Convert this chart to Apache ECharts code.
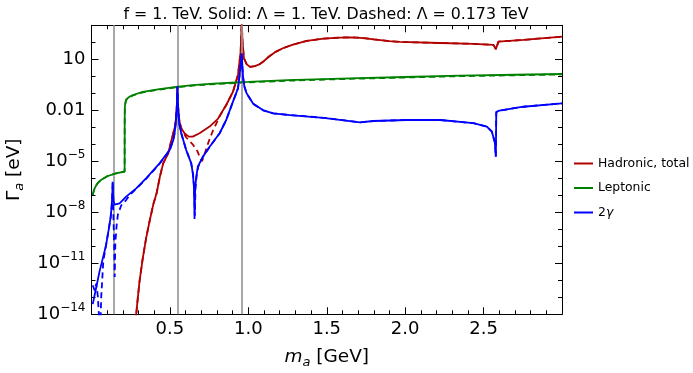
<!DOCTYPE html>
<html>
<head>
<meta charset="utf-8">
<script src="https://cdn.jsdelivr.net/npm/echarts@6/dist/echarts.min.js"></script>
<style>
html,body{margin:0;padding:0;background:#fff;}
#chart{width:693px;height:373px;}
</style>
</head>
<body>
<div id="chart"></div>
<script>
// x: m_a [GeV], y: log10(Gamma_a / eV)
const mesonMasses = [0.135, 0.548, 0.958];
const xTicks = [0.5, 1.0, 1.5, 2.0, 2.5];
const yTickExponents = [-14, -11, -8, -5, -2, 1];

const hadronicSolid = [
  [0.283,-14.5],[0.285,-14.0],[0.295,-13.06],[0.306,-12.08],[0.327,-10.7],[0.348,-9.53],
  [0.372,-8.45],[0.395,-7.5],[0.415,-6.88],[0.436,-5.91],[0.457,-5.12],[0.489,-4.53],
  [0.51,-3.75],[0.532,-2.96],[0.54,-2.4],[0.545,-1.6],[0.548,-0.6],[0.551,-1.6],[0.556,-2.3],
  [0.562,-2.7],[0.575,-3.1],[0.593,-3.35],[0.62,-3.55],[0.646,-3.55],[0.689,-3.35],
  [0.753,-2.96],[0.806,-2.5],[0.859,-1.69],[0.902,-0.91],[0.934,0.08],[0.951,1.45],
  [0.958,3.3],[0.963,2.0],[0.972,1.06],[0.99,0.7],[1.01,0.56],[1.042,0.6],[1.07,0.7],
  [1.1,0.9],[1.13,1.15],[1.17,1.42],[1.22,1.65],[1.28,1.85],[1.372,2.08],[1.48,2.22],
  [1.585,2.28],[1.65,2.29],[1.691,2.28],[1.75,2.23],[1.8,2.17],[1.9,2.07],
  [1.967,2.02],[2.223,1.96],[2.435,1.91],[2.563,1.85],[2.578,1.6],[2.595,2.04],
  [2.754,2.14],[3.0,2.33]
];
const hadronicDashed = [
  [0.283,-14.5],[0.285,-14.0],[0.295,-13.06],[0.306,-12.08],[0.327,-10.7],[0.348,-9.53],
  [0.372,-8.45],[0.395,-7.5],[0.415,-6.88],[0.436,-5.91],[0.457,-5.12],[0.489,-4.53],
  [0.51,-3.75],[0.532,-2.96],[0.54,-2.4],[0.545,-1.6],[0.548,-0.6],[0.551,-1.6],[0.556,-2.3],
  [0.562,-2.75],[0.575,-3.15],[0.604,-3.6],[0.645,-4.0],[0.675,-4.4],[0.695,-4.85],
  [0.705,-5.0],[0.72,-4.6],[0.745,-3.9],[0.774,-3.2],[0.80,-2.7],[0.82,-2.3],
  [0.859,-1.69],[0.902,-0.91],[0.934,0.08],[0.951,1.45],
  [0.958,3.3],[0.963,2.0],[0.972,1.06],[0.99,0.7],[1.01,0.56],[1.042,0.6],[1.07,0.7],
  [1.1,0.9],[1.13,1.15],[1.17,1.42],[1.22,1.65],[1.28,1.85],[1.372,2.08],[1.48,2.22],
  [1.585,2.28],[1.65,2.29],[1.691,2.28],[1.75,2.23],[1.8,2.17],[1.9,2.07],
  [1.967,2.02],[2.223,1.96],[2.435,1.91],[2.563,1.85],[2.578,1.6],[2.595,2.04],
  [2.754,2.14],[3.0,2.33]
];
const leptonicSolid = [
  [0.008,-6.98],[0.015,-6.71],[0.025,-6.49],[0.04,-6.28],[0.06,-6.1],[0.1,-5.88],
  [0.15,-5.72],[0.2112,-5.6],[0.2116,-2.6],[0.2125,-1.85],[0.215,-1.6],[0.221,-1.36],
  [0.242,-1.2],[0.264,-1.1],[0.327,-0.91],[0.434,-0.75],[0.54,-0.62],[0.646,-0.52],
  [0.753,-0.45],[0.944,-0.35],[1.0,-0.33],[1.25,-0.23],[1.648,-0.12],[2.0,-0.04],
  [2.35,0.035],[2.7,0.09],[3.0,0.135]
];
const leptonicDashed = [
  [0.008,-6.98],[0.015,-6.71],[0.025,-6.49],[0.04,-6.28],[0.06,-6.1],[0.1,-5.88],
  [0.15,-5.72],[0.2112,-5.6],[0.2116,-2.65],[0.2125,-1.9],[0.215,-1.64],[0.221,-1.4],
  [0.242,-1.23],[0.264,-1.13],[0.327,-0.94],[0.434,-0.78],[0.54,-0.65],[0.646,-0.55],
  [0.753,-0.48],[0.944,-0.38],[1.0,-0.36],[1.25,-0.26],[1.648,-0.15],[2.0,-0.07],
  [2.35,0.005],[2.7,0.06],[3.0,0.11]
];
const twoPhotonSolid = [
  [0.008,-13.4],[0.029,-12.47],[0.051,-11.49],[0.072,-10.71],[0.093,-9.92],[0.11,-9.0],
  [0.122,-8.3],[0.129,-7.6],[0.133,-6.9],[0.135,-6.2],[0.137,-6.9],[0.141,-7.35],
  [0.147,-7.55],[0.157,-7.6],[0.179,-7.47],[0.221,-7.08],[0.285,-6.59],[0.348,-6.0],
  [0.434,-5.12],[0.498,-4.34],[0.52,-3.8],[0.53,-3.35],[0.538,-2.7],[0.544,-1.8],
  [0.548,-0.6],[0.552,-1.8],[0.558,-2.7],[0.572,-3.35],[0.604,-4.34],[0.636,-5.12],
  [0.646,-5.71],[0.653,-6.5],[0.657,-8.4],[0.661,-6.6],[0.668,-5.9],[0.678,-5.32],
  [0.71,-4.73],[0.753,-4.14],[0.817,-3.35],[0.859,-2.57],[0.902,-1.49],[0.934,-0.71],
  [0.946,0.2],[0.953,0.85],[0.958,1.35],[0.962,0.6],[0.967,-0.1],[0.975,-0.6],
  [0.989,-1.0],[1.031,-1.62],[1.095,-2.0],[1.159,-2.18],[1.265,-2.28],[1.478,-2.44],
  [1.712,-2.71],[1.797,-2.63],[2.01,-2.57],[2.223,-2.57],[2.435,-2.76],[2.521,-2.96],
  [2.553,-3.26],[2.572,-3.9],[2.578,-4.73],[2.581,-2.1],[2.6,-2.02],[2.754,-1.79],
  [3.0,-1.59]
];
const twoPhotonDashed = [
  [0.008,-12.3],[0.02,-12.6],[0.03,-12.2],[0.04,-12.9],[0.05,-14.5],[0.055,-15.2],
  [0.062,-13.0],[0.075,-10.9],[0.093,-9.92],[0.11,-9.0],[0.122,-8.3],[0.129,-7.6],
  [0.133,-6.9],[0.135,-6.2],[0.138,-7.6],[0.143,-9.3],[0.148,-11.8],[0.152,-9.8],
  [0.16,-8.8],[0.168,-8.15],[0.189,-7.6],[0.221,-7.28],[0.242,-7.0],[0.285,-6.62],
  [0.348,-6.03],[0.434,-5.14],[0.498,-4.36],[0.52,-3.8],[0.53,-3.35],[0.538,-2.7],
  [0.544,-1.8],[0.548,-0.6],[0.552,-1.8],[0.558,-2.7],[0.572,-3.35],[0.604,-4.34],
  [0.636,-5.12],[0.648,-5.8],[0.655,-6.6],[0.659,-8.2],[0.663,-6.6],[0.67,-5.9],
  [0.68,-5.32],[0.71,-4.75],[0.753,-4.16],[0.817,-3.35],[0.859,-2.57],[0.902,-1.49],
  [0.934,-0.71],[0.946,0.2],[0.953,0.85],[0.958,1.35],[0.962,0.6],[0.967,-0.1],
  [0.975,-0.6],[0.989,-1.0],[1.031,-1.62],[1.095,-2.0],[1.159,-2.18],[1.265,-2.28],
  [1.478,-2.44],[1.712,-2.71],[1.797,-2.63],[2.01,-2.57],[2.223,-2.57],[2.435,-2.76],
  [2.521,-2.96],[2.553,-3.26],[2.572,-3.9],[2.578,-4.73],[2.581,-2.1],[2.6,-2.02],
  [2.754,-1.79],[3.0,-1.59]
];

const FONT = 'DejaVu Sans';
const RED = '#B20000', GREEN = '#008000', BLUE = '#0000FF', GREY = '#999999';

function curve(name, data, color, dashed, z) {
  return {
    name: name, type: 'line', data: data, xAxisIndex: 0, yAxisIndex: 0,
    symbol: 'none', showSymbol: false, clip: true, z: z, silent: true,
    lineStyle: { color: color, width: 1.8, type: dashed ? [6, 4] : 'solid' },
    itemStyle: { color: color }
  };
}

const yLabelFormatter = function (v) {
  const n = Math.round(v);
  if (n === 1) return '10';
  if (n === -2) return '0.01';
  return '10{s|\u2212' + (-n) + '}';
};

const tickStyle = { color: '#000', width: 1 };
const baseX = {
  type: 'value', min: 0, max: 3, interval: 0.5,
  splitLine: { show: false }, minorSplitLine: { show: false },
  axisLine: { show: true, onZero: false, lineStyle: { color: '#000', width: 1 } },
  axisTick: { show: true, inside: true, length: 7, lineStyle: tickStyle },
  minorTick: { show: true, splitNumber: 5, length: 4, lineStyle: tickStyle }
};
function yAxisDef(position, interval, len, showLine) {
  return {
    type: 'value', min: -14, max: 3, interval: interval, position: position,
    splitLine: { show: false },
    axisLine: { show: showLine, onZero: false, lineStyle: { color: '#000', width: 1 } },
    axisTick: { show: true, inside: true, length: len, lineStyle: tickStyle },
    axisLabel: { show: false }
  };
}

const yMain = yAxisDef('left', 3, 7, true);
yMain.axisLabel = {
  show: true, showMinLabel: true, showMaxLabel: false, margin: 6,
  formatter: yLabelFormatter, color: '#000', fontFamily: FONT, fontSize: 18, lineHeight: 24,
  rich: { s: { fontFamily: FONT, fontSize: 12, lineHeight: 14, verticalAlign: 'top', color: '#000' } }
};
yMain.name = '\u0393{s|a} [eV]';
yMain.nameLocation = 'middle';
yMain.nameRotate = 90;
yMain.nameGap = 50;
yMain.nameTextStyle = {
  color: '#000', fontFamily: FONT, fontSize: 18.5, lineHeight: 24,
  rich: { s: { fontFamily: FONT, fontSize: 13, fontStyle: 'italic', lineHeight: 16, verticalAlign: 'bottom', color: '#000' } }
};

const option = {
  animation: false,
  backgroundColor: '#fff',
  title: {
    text: 'f = 1. TeV. Solid: \u039B = 1. TeV. Dashed: \u039B = 0.173 TeV',
    left: 326, top: 7, textAlign: 'center', padding: 0,
    textStyle: { fontFamily: FONT, fontSize: 15.8, fontWeight: 'normal', color: '#000' }
  },
  grid: { left: 91.5, right: 131, top: 25.3, bottom: 58.7, containLabel: false, outerBoundsMode: 'none' },
  legend: {
    orient: 'vertical', left: 574, top: 156.5, padding: 0, icon: 'rect', itemWidth: 19, itemHeight: 2,
    itemGap: 10.5, selectedMode: false,
    data: ['Hadronic, total', 'Leptonic', '2\u03B3'],
    formatter: function (name) { return name === '2\u03B3' ? '2{i|\u03B3}' : name; },
    textStyle: {
      fontFamily: FONT, fontSize: 12.4, lineHeight: 14, color: '#000', overflow: 'none',
      rich: { i: { fontFamily: FONT, fontSize: 12.4, fontStyle: 'italic', color: '#000' } }
    }
  },
  xAxis: [
    Object.assign({}, baseX, {
      position: 'bottom',
      axisLabel: {
        show: true, showMinLabel: false, showMaxLabel: false, margin: 6,
        formatter: function (v) { return xTicks.indexOf(Math.round(v * 10) / 10) >= 0 ? v.toFixed(1) : ''; },
        color: '#000', fontFamily: FONT, fontSize: 18
      },
      name: '{i|m}{s|a} [GeV]', nameLocation: 'middle', nameGap: 31,
      nameTextStyle: {
        color: '#000', fontFamily: FONT, fontSize: 18.5, lineHeight: 24,
        rich: {
          i: { fontFamily: FONT, fontSize: 18.5, fontStyle: 'italic', lineHeight: 24, color: '#000' },
          s: { fontFamily: FONT, fontSize: 13, fontStyle: 'italic', lineHeight: 16, verticalAlign: 'bottom', color: '#000' }
        }
      }
    }),
    Object.assign({}, baseX, { position: 'top', axisLabel: { show: false } })
  ],
  yAxis: [
    yMain,
    yAxisDef('left', 1, 4, false),
    yAxisDef('right', 3, 7, true),
    yAxisDef('right', 1, 4, false)
  ],
  series: [
    curve('Hadronic dashed', hadronicDashed, RED, true, 2),
    curve('Hadronic, total', hadronicSolid, RED, false, 3),
    curve('Leptonic dashed', leptonicDashed, GREEN, true, 4),
    curve('Leptonic', leptonicSolid, GREEN, false, 5),
    curve('2\u03B3 dashed', twoPhotonDashed, BLUE, true, 6),
    curve('2\u03B3', twoPhotonSolid, BLUE, false, 7),
    {
      name: 'meson masses', type: 'line', data: [], xAxisIndex: 0, yAxisIndex: 0, z: 10,
      markLine: {
        silent: true, symbol: ['none', 'none'], animation: false,
        label: { show: false },
        lineStyle: { color: GREY, width: 2, type: 'solid', opacity: 0.85 },
        data: mesonMasses.map(function (m) { return { xAxis: m }; })
      }
    }
  ]
};

const chart = echarts.init(document.getElementById('chart'), null, { renderer: 'canvas' });
chart.setOption(option);
</script>
</body>
</html>
